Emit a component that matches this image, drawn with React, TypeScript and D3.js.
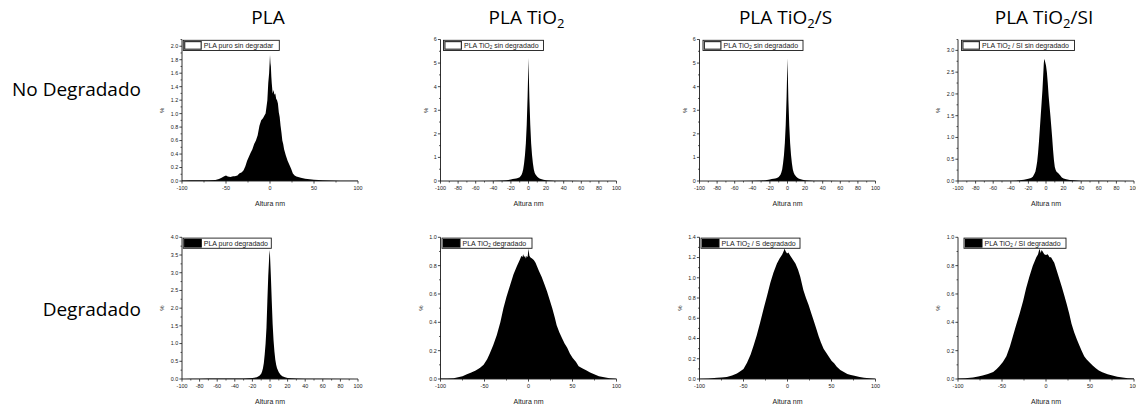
import React from "react";
import * as d3 from "d3";

// ---------- text ----------
const titleMain = ["PLA", "PLA TiO", "PLA TiO", "PLA TiO"];
const titleSub = ["", "2", "2", "2"];
const titleTail = ["", "", "/S", "/SI"];
const rowLabels = ["No Degradado", "Degradado"];

const legendMain = ["PLA puro sin degradar", "PLA TiO", "PLA TiO", "PLA TiO", "PLA puro degradado", "PLA TiO", "PLA TiO", "PLA TiO"];
const legendSub = ["", "2", "2", "2", "", "2", "2", "2"];
const legendTail = ["", " sin degradado", " sin degradado", " / SI sin degradado", "", " degradado", " / S degradado", " / SI degradado"];

const xLabel = "Altura nm";
const yLabel = "%";

// ---------- data: [altura nm, %] ----------
const plaSin: [number, number][] = [
  [-100, 0.008], [-90, 0.01], [-80, 0.01], [-70, 0.012], [-62, 0.015], [-58, 0.03], [-55, 0.05], [-52, 0.07], [-50, 0.08], [-48, 0.065],
  [-45, 0.06], [-42, 0.07], [-40, 0.07], [-37, 0.08], [-35, 0.11], [-32, 0.13], [-30, 0.16], [-28, 0.22], [-26, 0.3], [-24, 0.36],
  [-22, 0.42], [-20, 0.47], [-18, 0.55], [-16, 0.6], [-14, 0.68], [-12, 0.82], [-10, 0.9], [-8, 0.93], [-6, 0.98], [-5, 1.0],
  [-4, 1.1], [-3, 1.2], [-2, 1.45], [-1, 1.6], [0, 1.87], [0.5, 1.75], [1, 1.7], [1.5, 1.55], [2, 1.45], [3, 1.3], [4, 1.35],
  [5, 1.28], [6, 1.3], [7, 1.22], [8, 1.2], [9, 1.15], [10, 1.02], [11, 0.95], [12, 0.82], [13, 0.72], [14, 0.6], [15, 0.55],
  [16, 0.47], [18, 0.38], [20, 0.3], [22, 0.24], [24, 0.18], [26, 0.11], [28, 0.08], [30, 0.065], [35, 0.05], [40, 0.035],
  [45, 0.025], [50, 0.018], [60, 0.01], [70, 0.006], [80, 0.004], [100, 0.002],
];
const tioSin: [number, number][] = [
  [-100, 0.0], [-60, 0.005], [-40, 0.01], [-30, 0.02], [-25, 0.03], [-20, 0.06], [-18, 0.09], [-16, 0.1], [-14, 0.11], [-12, 0.13],
  [-10, 0.16], [-8, 0.25], [-7, 0.35], [-6, 0.5], [-5, 0.75], [-4, 1.1], [-3, 1.6], [-2, 2.4], [-1, 3.6], [-0.5, 4.4], [0, 5.22],
  [0.5, 4.3], [1, 3.5], [2, 2.4], [3, 1.6], [4, 1.1], [5, 0.75], [6, 0.5], [7, 0.35], [8, 0.28], [10, 0.18], [12, 0.12], [14, 0.08],
  [17, 0.05], [20, 0.03], [25, 0.02], [30, 0.01], [40, 0.006], [60, 0.003], [100, 0.0],
];
const tioSSin: [number, number][] = [
  [-100, 0.0], [-60, 0.005], [-40, 0.01], [-30, 0.02], [-25, 0.03], [-20, 0.06], [-18, 0.09], [-16, 0.1], [-14, 0.11], [-12, 0.13],
  [-10, 0.17], [-8, 0.26], [-7, 0.36], [-6, 0.5], [-5, 0.76], [-4, 1.1], [-3, 1.62], [-2, 2.4], [-1, 3.6], [-0.5, 4.45], [0, 5.2],
  [0.5, 4.3], [1, 3.45], [2, 2.35], [3, 1.6], [4, 1.1], [5, 0.75], [6, 0.5], [7, 0.36], [8, 0.28], [10, 0.18], [12, 0.12], [14, 0.08],
  [17, 0.05], [20, 0.03], [25, 0.02], [30, 0.01], [40, 0.006], [60, 0.003], [100, 0.0],
];
const tioSISin: [number, number][] = [
  [-100, 0.002], [-60, 0.004], [-40, 0.008], [-30, 0.015], [-25, 0.03], [-20, 0.05], [-17, 0.07], [-15, 0.1], [-13, 0.17], [-12, 0.22],
  [-11, 0.32], [-10, 0.45], [-9, 0.65], [-8, 0.9], [-7, 1.2], [-6, 1.5], [-5, 1.8], [-4, 2.1], [-3, 2.5], [-2.5, 2.7], [-2, 2.8],
  [-1.5, 2.78], [-1, 2.74], [0, 2.65], [1, 2.5], [2, 2.25], [3, 1.95], [4, 1.72], [5, 1.5], [6, 1.25], [7, 1.0], [8, 0.72], [9, 0.48],
  [10, 0.32], [11, 0.25], [12, 0.21], [14, 0.18], [16, 0.13], [18, 0.08], [20, 0.06], [23, 0.04], [27, 0.025], [32, 0.015],
  [40, 0.008], [60, 0.004], [100, 0.002],
];
const plaDeg: [number, number][] = [
  [-100, 0.002], [-90, 0.004], [-80, 0.006], [-70, 0.012], [-60, 0.012], [-50, 0.013], [-40, 0.014], [-30, 0.016], [-25, 0.02],
  [-20, 0.025], [-15, 0.05], [-12, 0.09], [-10, 0.15], [-9, 0.21], [-8, 0.3], [-7, 0.45], [-6, 0.7], [-5, 1.0], [-4, 1.45], [-3, 2.2],
  [-2, 2.9], [-1, 3.4], [-0.5, 3.64], [0, 3.5], [1, 2.9], [2, 2.2], [3, 1.55], [4, 1.1], [5, 0.78], [6, 0.55], [7, 0.4], [8, 0.3],
  [10, 0.19], [12, 0.12], [14, 0.08], [17, 0.05], [20, 0.03], [25, 0.018], [30, 0.012], [40, 0.007], [60, 0.004], [100, 0.002],
];
const tioDeg: [number, number][] = [
  [-100, 0.003], [-92, 0.004], [-85, 0.006], [-80, 0.012], [-75, 0.02], [-70, 0.033], [-65, 0.045], [-60, 0.06], [-55, 0.08],
  [-51, 0.1], [-47, 0.14], [-44, 0.18], [-40, 0.24], [-36, 0.31], [-32, 0.4], [-28.5, 0.5], [-25, 0.58], [-21, 0.66], [-17, 0.74],
  [-13, 0.8], [-10, 0.84], [-8, 0.87], [-7, 0.86], [-6, 0.88], [-5, 0.86], [-4, 0.87], [-3, 0.85], [-2, 0.87], [-1, 0.86], [0, 0.92],
  [1, 0.87], [2, 0.86], [4, 0.85], [6, 0.84], [8, 0.82], [10, 0.79], [12, 0.76], [15, 0.72], [18, 0.67], [21, 0.62], [24, 0.56],
  [27, 0.5], [30, 0.43], [32, 0.38], [35, 0.33], [38, 0.29], [41, 0.25], [44, 0.22], [47, 0.18], [50, 0.15], [54, 0.12], [57, 0.09],
  [61, 0.075], [66, 0.06], [70, 0.045], [74, 0.035], [80, 0.02], [86, 0.012], [92, 0.006], [100, 0.002],
];
const tioSDeg: [number, number][] = [
  [-100, 0.002], [-90, 0.006], [-80, 0.012], [-75, 0.016], [-69, 0.02], [-63, 0.035], [-57.5, 0.055], [-54, 0.075], [-50, 0.1],
  [-46, 0.16], [-42, 0.24], [-38.5, 0.33], [-35, 0.43], [-31, 0.56], [-27, 0.7], [-23, 0.83], [-19.5, 0.95], [-16, 1.05], [-12, 1.14],
  [-9, 1.19], [-6, 1.23], [-4, 1.27], [-3.5, 1.29], [-2, 1.26], [-0.5, 1.24], [1, 1.25], [3, 1.22], [6, 1.18], [9, 1.14], [12, 1.08],
  [14.5, 1.01], [18, 0.88], [21, 0.8], [24, 0.73], [27, 0.65], [30, 0.57], [33, 0.49], [35.5, 0.42], [38, 0.36], [41, 0.3], [44, 0.26],
  [47, 0.22], [50, 0.18], [53, 0.155], [56, 0.12], [60, 0.09], [64, 0.07], [68, 0.05], [72, 0.04], [76, 0.033], [82, 0.02],
  [87, 0.013], [93, 0.007], [100, 0.003],
];
const tioSIDeg: [number, number][] = [
  [-100, 0.003], [-92, 0.006], [-83, 0.01], [-77, 0.017], [-72, 0.024], [-66, 0.035], [-60, 0.05], [-56, 0.07], [-53, 0.09],
  [-49, 0.12], [-45, 0.16], [-41, 0.23], [-37.7, 0.3], [-34, 0.38], [-30, 0.46], [-26, 0.55], [-22.6, 0.64], [-19, 0.72], [-15, 0.8],
  [-13, 0.83], [-11, 0.86], [-9, 0.88], [-7.5, 0.92], [-6, 0.89], [-5, 0.91], [-3.8, 0.9], [-2, 0.88], [0, 0.875], [2, 0.88],
  [4, 0.86], [5.7, 0.86], [7.5, 0.84], [9.4, 0.82], [12, 0.77], [15, 0.71], [18, 0.65], [20.8, 0.59], [23.5, 0.53], [26.4, 0.46],
  [29, 0.39], [32, 0.33], [35, 0.28], [37.7, 0.24], [40.5, 0.2], [43.4, 0.16], [46, 0.14], [49, 0.12], [53, 0.095], [56.6, 0.075],
  [60, 0.06], [64, 0.047], [70, 0.034], [75.5, 0.024], [81, 0.016], [87, 0.01], [93, 0.006], [100, 0.003],
];

// ---------- axes ----------
const yMaxes = [2.1, 6, 6, 3.25, 4, 1, 1.4, 1];
const yTicks0 = [0, 0.2, 0.4, 0.6, 0.8, 1.0, 1.2, 1.4, 1.6, 1.8, 2.0];
const yTicksInt = [0, 1, 2, 3, 4, 5, 6];
const yTicks3 = [0, 0.5, 1.0, 1.5, 2.0, 2.5, 3.0];
const yTicks4 = [0, 0.5, 1.0, 1.5, 2.0, 2.5, 3.0, 3.5, 4.0];
const yTicksUnit = [0, 0.2, 0.4, 0.6, 0.8, 1.0];
const yTicks14 = [0, 0.2, 0.4, 0.6, 0.8, 1.0, 1.2, 1.4];
const xTicks50 = [-100, -50, 0, 50, 100];
const xTicks20 = [-100, -80, -60, -40, -20, 0, 20, 40, 60, 80, 100];

const datasets = [plaSin, tioSin, tioSSin, tioSISin, plaDeg, tioDeg, tioSDeg, tioSIDeg];
const yTickSets = [yTicks0, yTicksInt, yTicksInt, yTicks3, yTicks4, yTicksUnit, yTicks14, yTicksUnit];
const xTickSets = [xTicks50, xTicks20, xTicks20, xTicks20, xTicks20, xTicks50, xTicks50, xTicks50];

// ---------- layout ----------
const W = 1136, H = 404;
const colLeft = [182, 440.5, 699.5, 958];
const plotW = 176;
const rowTop = [39.5, 237.3];
const rowBottom = [181, 379];
const legendOffset = [1.3, 3, 3.5, 3.5, 1.3, 1.5, 1.5, 6];
const legendWidth = [96, 100, 100, 113, 88, 90, 99, 102];
const axisFont = "'Liberation Sans', Arial, sans-serif";
const bigFont = "'Open Sans', 'Noto Sans', sans-serif";
const ink = "#1a1a1a";

function Panel({ i }: { i: number }) {
  const col = i % 4;
  const row = Math.floor(i / 4);
  const left = colLeft[col];
  const top = rowTop[row];
  const bottom = rowBottom[row];
  const x = d3.scaleLinear().domain([-100, 100]).range([left, left + plotW]);
  const y = d3.scaleLinear().domain([0, yMaxes[i]]).range([bottom, top]);
  const area = d3
    .area<[number, number]>()
    .x((d) => x(d[0]))
    .y0(y(0))
    .y1((d) => y(d[1]))
    .curve(d3.curveLinear);
  const yT = yTickSets[i];
  const xT = xTickSets[i];
  const isInt = yT === yTicksInt;
  const fmt = isInt ? d3.format("d") : d3.format(".1f");
  const yMinor: number[] = [];
  for (let k = 0; k < yT.length - 1; k++) yMinor.push((yT[k] + yT[k + 1]) / 2);
  if (yT[yT.length - 1] + (yT[1] - yT[0]) / 2 <= yMaxes[i] + 1e-9) yMinor.push(yT[yT.length - 1] + (yT[1] - yT[0]) / 2);
  const xMinor: number[] = [];
  for (let k = 0; k < xT.length - 1; k++) xMinor.push((xT[k] + xT[k + 1]) / 2);
  const filled = row === 1;
  const lx = left + legendOffset[i];
  const ly = top + 0.8;
  const midY = (top + bottom) / 2;
  return (
    <g>
      <path d={area(datasets[i]) || ""} fill="#000" />
      <line x1={left} x2={left} y1={top} y2={bottom} stroke={ink} strokeWidth={0.9} />
      <line x1={left} x2={left + plotW} y1={bottom} y2={bottom} stroke={ink} strokeWidth={0.9} />
      {yT.map((v) => (
        <g key={"y" + v}>
          <line x1={left - 2.6} x2={left} y1={y(v)} y2={y(v)} stroke={ink} strokeWidth={0.8} />
          <text x={left - 3.8} y={y(v) + 1.9} fontSize={5.4} textAnchor="end" fontFamily={axisFont} fill={ink}>
            {fmt(v)}
          </text>
        </g>
      ))}
      {yMinor.map((v) => (
        <line key={"ym" + v} x1={left - 1.5} x2={left} y1={y(v)} y2={y(v)} stroke={ink} strokeWidth={0.7} />
      ))}
      {xT.map((v) => (
        <g key={"x" + v}>
          <line x1={x(v)} x2={x(v)} y1={bottom} y2={bottom + 2.6} stroke={ink} strokeWidth={0.8} />
          <text x={x(v)} y={bottom + 9} fontSize={5.4} textAnchor="middle" fontFamily={axisFont} fill={ink}>
            {v}
          </text>
        </g>
      ))}
      {xMinor.map((v) => (
        <line key={"xm" + v} x1={x(v)} x2={x(v)} y1={bottom} y2={bottom + 1.5} stroke={ink} strokeWidth={0.7} />
      ))}
      <text x={x(0)} y={bottom + 24.5} fontSize={7} textAnchor="middle" fontFamily={axisFont} fill={ink}>
        {xLabel}
      </text>
      <text
        transform={`translate(${left - (isInt ? 12.5 : 18)},${midY}) rotate(-90)`}
        fontSize={6}
        textAnchor="middle"
        fontFamily={axisFont}
        fill={ink}
      >
        {yLabel}
      </text>
      <rect x={lx} y={ly} width={legendWidth[i]} height={10.2} fill="#fff" stroke={ink} strokeWidth={0.9} />
      <rect
        x={lx + 1.4}
        y={ly + 1.3}
        width={16.5}
        height={7.6}
        fill={filled ? "#000" : "#fff"}
        stroke={filled ? "#000" : "#333"}
        strokeWidth={1.2}
      />
      <text x={lx + 20.5} y={ly + 7.6} fontSize={7} fontFamily={axisFont} fill={ink}>
        <tspan>{legendMain[i]}</tspan>
        {legendSub[i] && (
          <tspan fontSize={4.6} dy={1.5}>
            {legendSub[i]}
          </tspan>
        )}
        {legendSub[i] && <tspan dy={-1.5}>{legendTail[i]}</tspan>}
      </text>
    </g>
  );
}

export default function App() {
  return (
    <svg
      width={W}
      height={H}
      viewBox={`0 0 ${W} ${H}`}
      style={{ position: "absolute", left: 0, top: 0, background: "#fff" }}
    >
      <rect x={0} y={0} width={W} height={H} fill="#fff" />
      {titleMain.map((t, c) => (
        <text
          key={"t" + c}
          x={colLeft[c] + plotW / 2 - 2}
          y={24}
          fontSize={19}
          textAnchor="middle"
          fontFamily={bigFont}
          fill="#000"
        >
          <tspan>{t}</tspan>
          {titleSub[c] && (
            <tspan fontSize={13} dy={4}>
              {titleSub[c]}
            </tspan>
          )}
          {titleSub[c] && <tspan dy={-4}>{titleTail[c]}</tspan>}
        </text>
      ))}
      <text x={141} y={96} fontSize={19} textAnchor="end" fontFamily={bigFont} fill="#000">
        {rowLabels[0]}
      </text>
      <text x={141} y={315.5} fontSize={19} textAnchor="end" fontFamily={bigFont} fill="#000">
        {rowLabels[1]}
      </text>
      {datasets.map((_, i) => (
        <Panel key={i} i={i} />
      ))}
    </svg>
  );
}
